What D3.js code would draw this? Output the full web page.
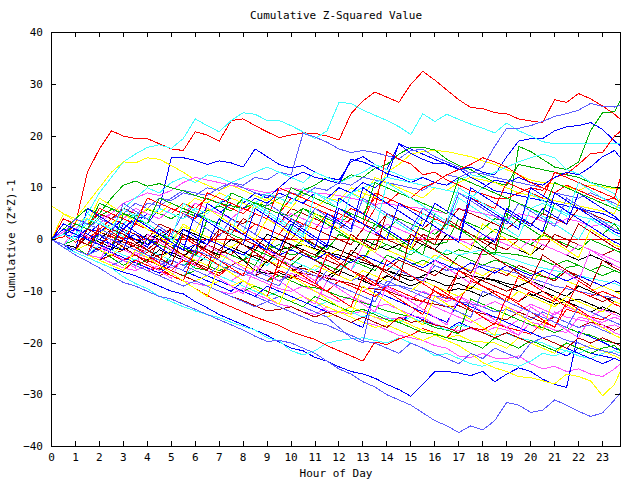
<!DOCTYPE html>
<html><head><meta charset="utf-8">
<script src="https://cdn.jsdelivr.net/npm/d3@7"></script>
<style>body{margin:0;background:#fff}</style>
</head><body>
<svg id="c" width="640" height="480"></svg>
<script>
const hours = [0,0.5,1,1.5,2,2.5,3,3.5,4,4.5,5,5.5,6,6.5,7,7.5,8,8.5,9,9.5,10,10.5,11,11.5,12,12.5,13,13.5,14,14.5,15,15.5,16,16.5,17,17.5,18,18.5,19,19.5,20,20.5,21,21.5,22,22.5,23,23.5,23.75];
const xTickValues = [0,1,2,3,4,5,6,7,8,9,10,11,12,13,14,15,16,17,18,19,20,21,22,23];
const yTickValues = [-40,-30,-20,-10,0,10,20,30,40];

const trial01 = [0,0.5,3,13,17.5,21,20,19.5,19.5,18.5,17.5,17.2,20.8,20.2,19,23,23.3,22,20.8,19.7,20.2,20.6,20.5,20,19.2,24.3,26.8,28.5,27.5,26.5,30,32.5,30.8,28.9,27,25.5,25.3,24.5,24.3,23.3,22.9,22.6,27,26.5,28.2,27.2,25.8,24.2,23.2];
const trial02 = [0,-1,-1.5,-3,-2,-3.5,-5,-4,-5,-6,-3,-4,-5.5,-6,-2,-3,-4,-5,-1,-2,-3,-2.5,-3.5,-1,-2,-3,-4,0,-1,-2,1,0,-1,-0.5,4,3,2,4,3.6,18,17,15.5,14,13.5,15,21,24.5,24.7,27];
const trial03 = [0,1,0.5,2,1.5,3,2,4.5,4,6,15.8,15.8,15.3,14.5,15.2,14.8,14,17.5,16,14.5,13.8,14.3,13,12,11.5,15,16,14.5,13.5,18.5,17.5,16.5,15.5,14.5,13.5,14,13,12.5,16,19,19.5,19.5,21,21.8,22,22.6,21.3,19,18.1];
const trial04 = [0,-1,-2,-3,-3.5,-4.5,-5.5,-6,-5,-6,-7,-8,-8.5,-9,-10,-10.5,-9.5,-10.5,-11.5,-12.5,-13,-14,-14.5,-13,-14,-15,-16,-16.5,-17.5,-18.5,-19,-19.5,-20.5,-21,-22.5,-22.8,-22,-22.9,-23,-22.5,-24,-25,-24.5,-25.5,-25,-26,-26.5,-25,-24];
const trial05 = [0,1,2,5,9,12,15,16.5,17.8,18.3,17.6,19.5,23.3,22,20.8,23,24.5,24.2,23,23,22,20.8,19.5,21,26.5,26.3,25,24,23,21.8,20.3,24.3,22.8,24.2,23.2,22.3,21.5,20.6,22.5,21,20,18.9,18.5,18.5,18.5,18.5,18.5,18.5,18.5];
const trial06 = [0,1,0,-1,1.5,0.5,-0.5,-1.5,-2.5,-1,-2,-3,-2,-3,-4,-5,-4,-3,-4,-5,-6,-5.5,-6.5,-7.5,-5,-6,-7,-8,-7,-8,-9,-8,-9,-10,-6,-7,-8,-9,-10,-9,-10,-11,-12,-9,-10,-11,-12,-11,-11.5];
const trial07 = [0,2,4,7,10,13,15,14.8,15.8,15.5,14.3,13,11.5,10.5,9.5,10.5,9.5,8.5,7.5,9,8,7,6,8,7.5,10,9,8,13,14.5,16.5,17,17.2,17,16.5,16,15.2,14.5,13.5,12.5,11.5,11,10.8,10.2,9.5,10.5,10.2,9.8,10];
const trial08 = [0,-1,-1.5,0.5,-0.5,-1.5,-2,-1,-2,-3,-2.5,-3.5,-1,-2,-3,-1.5,-2.5,-3.5,-4.5,-2,-1.5,-1,-1.8,-2.5,-3,-3.8,-4.5,-5.2,-6,-6.7,-7.2,-7.4,-8,-9,-8.5,-9.5,-7.5,-8,-9,-10,-11,-10,-11,-12,-11.5,-12.5,-13.5,-14,-14.5];
const trial09 = [0,-1,1,3,2,4,5,4.5,7,6.5,8,9.5,9,8.5,10,11,10.5,12,11.5,13,12.5,20.5,19.8,18.8,17.5,16.8,17.2,16.8,16.2,15.6,17.2,17.4,16,15,14,12.8,14,18,21.5,21.5,22,22.8,23.8,24.3,25,26.3,25.7,25.6,25.9];
const trial10 = [0,1,-0.5,0.5,-1,0.5,0.3,0,0,0,0,0,0,0,0,0,0,0,0,0,0,0,0,0,0,0,0,0,0,0,0,0,0,0,0,0,0,0,0,0,0,0,0,0,0,0,0,0,0];
const trial11 = [0,-1,0,2,4.5,5.8,5,4.5,5.8,5,4,5.5,4.5,5.5,6.5,5.5,8,7,6.5,8,7,9.5,10.5,12,11,12.5,12,13.8,14.5,16.5,17.8,17.8,17.3,15.5,14.3,13.5,12.2,11,10.5,14.5,14,13.5,13,12.5,12,11,10.5,10,9.9];
const trial12 = [0,-1,-2.5,-3.5,-4.5,-5.5,-6.3,-7,-8,-9,-10,-10.5,-12,-13.2,-14.5,-15.5,-16.5,-17.5,-18.5,-19.8,-21,-21.5,-22.8,-23.5,-24.6,-25.5,-26,-26.8,-28,-29,-30.3,-28,-25.5,-25.5,-25.8,-26.3,-25.5,-27.5,-26,-24.8,-25.5,-27,-28,-28.6,-17.8,-18.8,-19.8,-21,-21.5];
const trial13 = [0,-1,-2,-1,-2,-3,-4,-2.5,-3.5,-4.5,-5.5,-4,-5,-6,-7,-8,-6.5,-7.5,-8.5,-9.5,-10,-9,-10,-11,-12,-11,-12,-13,-12.5,-13.5,-14.5,-12,-13,-14,-15,-16,-15,-16,-17,-15.5,-16.5,-17.5,-14,-15,-15.5,-16,-17,-16.5,-17];
const trial14 = [0,-1.5,-2.5,-3.5,-4.5,-5.5,-7.2,-8.5,-9.5,-11,-12,-13,-13.8,-14.5,-15.1,-16,-16.8,-17.5,-19,-19.6,-21.5,-22.3,-21.5,-20,-19.5,-19.2,-19,-19.5,-20,-19,-20,-21,-22.5,-22,-23,-24,-24.5,-23.5,-24,-24.5,-23.5,-22,-22.5,-21.5,-22,-21,-21.5,-22,-22.5];
const trial15 = [0,-1,-2,-1,-2,-3,-2,-3,-4,-3,-4,-5,-4.5,-5.5,-6.5,-5,-6,-7,-6,-7,-7.5,-6.5,-7,-7.5,-8,-8.5,-9.3,-9.6,-9.9,-10.8,-11.5,-12,-12.5,-13,-12.8,-13.8,-14.3,-15,-15.5,-14,-15,-16,-15,-16,-17,-16,-16.5,-17.5,-17];
const trial16 = [6.5,5,3.5,4,3,2,4,3,2,1,0,2.5,1.5,0.5,-0.5,-1.5,0,-1,-2,1,0,-1,-2,-3,-2,-3,-4,-1,-2,-3,-4,-5,-3,-4,-5,-6,-7,-5.5,-6.5,-7.5,-8.5,-6,-7,-8,-9,-10,-9,-10,-10.5];
const trial17 = [0,1,0,-1,1,0,-1,-2,0,-1,-2,1,0,-1,2,1,0,-1,-2,-1,-2,0,-1,-2,1,0,-1,-2,-1,-2,-3,-1,-2,-3,-2,-2.5,-3,-2.5,-2.7,-3,-3.5,-4,-5,-4,-5,-6,-5,-6,-6.5];
const trial18 = [0,-1.5,-3,-4.2,-5.5,-7,-8.3,-9,-10,-11,-11.5,-12.5,-13.5,-14.5,-15.5,-16.5,-17.5,-18.7,-19.7,-19.5,-20,-21,-22,-23.5,-25,-26,-27.5,-28.5,-30,-31,-32,-33.5,-35,-36,-37.3,-36,-36.8,-35,-31.5,-32,-33.4,-33,-31,-32,-33.2,-34.2,-33.5,-31,-29.6];
const trial19 = [0,-1,-2,-3,-2,-3,-4,-5,-6,-5.5,-7,-8,-9.5,-10.8,-12,-13,-14,-15,-15.8,-16.6,-17.8,-18.6,-19.3,-20.5,-21.5,-22.5,-23.5,-19.8,-20.3,-19.2,-18.5,-17.2,-18,-19,-16.5,-17,-17.5,-16.2,-17,-17.6,-18.3,-16,-16.8,-13.5,-14.2,-15,-15.5,-14,-14.5];
const trial20 = [0,-1,-2,-1,0,-1,-2,-3,-2,-3,-4,-5,-4,-5,-6,-5,-6,-7,-8,-7,-8,-9,-9.3,-10,-10.9,-11.5,-12.2,-13,-13.8,-14.4,-15,-16,-17,-17.5,-18.2,-11.5,-12.5,-13.5,-14.5,-15.5,-16.5,-17,-18,-17,-18,-18.5,-19.5,-20,-20.5];
const trial21 = [0,-1,-2,-3,-1.5,-2.5,-3.5,-4.5,-5.5,-6.5,-5,-6,-7,-8,-9,-10,-8,-9,-10,-11,-12,-13,-11,-12,-13,-14,-15,-14,-15,-16,-14.5,-15.5,-16.5,-17.5,-16,-17,-18,-19,-20,-21,-19.5,-20.5,-21.5,-22.5,-21,-22,-22.5,-23,-23.5];
const trial22 = [0,1.5,3,2,4,5,7,8,9,8.5,9.5,11,12,11.5,11,10.5,10,9.5,9,9.5,10,9.5,9,8.8,8.5,8,7.5,6.8,7,6.5,6.2,6,5.5,5,6,5.5,5,4.5,4,5,4.5,3.5,3,4,3.5,2.5,3,2,1.5];
const trial23 = [0,-1,1,3,2,4,6,8,10,9,11,12,11,12.5,12,11,12,13,14,13,12,11,13,12,11,12,13,14.5,13.5,12.5,11.5,12,11,10.5,11.5,12.5,12,13,14,15,15.8,16.5,15.8,13.5,12.7,11,10,8.8,6.9];
const trial24 = [0,-1,-2,1,0,-1,2,1,0,3,2,1,0,-1,2,1,4,3,2,1,0,3,2,1,0,-1,2,1,0,-1,-2,1,0,3,2,1,0,-1,-2,0,-1,-2,1,0,-1,-2,-3,-2,-2.5];
const trial25 = [0,-1,-2,-3,-4,-3,-4,-5,-6,-7,-6,-7,-8,-9,-8,-9,-10,-11,-12,-11,-12,-13,-14,-15,-14,-15,-16,-17,-16.5,-17.5,-18.5,-19.5,-18.5,-19.5,-20.5,-22,-23.8,-24.8,-25.5,-26.5,-26.7,-27.3,-27.9,-26,-26.5,-27.3,-30.2,-28,-25.4];
const trial26 = [0,1,0,-1,-2,-1,-2,-3,-4,-2,-3,-4,-5,-3,-4,-5,-6,-7,-4,-5,-6,-5,-6,-7,-6,-7,-8,-5,-6,-7,-8,-7,-6,-7,-7.5,-7,-7.4,-7.8,-8.5,-9,-8,-9,-10,-11,-9,-10,-11,-12,-12.5];
const trial27 = [0,-1,-2,-1,-2,-3,-4,-5,-4,-5,-6,-7,-8,-7,-8,-9,-10,-11,-12,-11,-12,-13,-14,-15,-17,-19,-20,-9.5,-9,-8.9,-9.5,-10.3,-10.9,-11.3,-12,-12.4,-13,-14,-13.5,-14.5,-15.5,-14,-15,-16,-17,-16.5,-17.5,-18.5,-19];
const trial28 = [0,1,0,-1,2,1,0,3,2,1,2,1,0,-1,1,2,1,3,2,1,4,3,2,5,4,3,2,6,17,15.5,14.6,12.5,13,11.5,10.5,9.4,8.8,8,7.9,9,10,9.5,12,12.7,14.5,16.6,16.8,20,20.9];
const trial29 = [0,-1,1,0,2,1,0,-1,-2,0,-1,-2,-3,-1,-2,-3,-4,-2,-3,-4,-5,-3,-4,-5,-6,-4,-5,-6,-3,-4,-5,-4,-5,-6,-3,-4,-5,-4,-4.5,-5.6,-6.6,-7.2,-7.6,-5.4,-5,-6,-7,-6,-6.5];
const trial30 = [0,1,0,2,1,3,2,4,3,6,5,4,6,5,7,8,7,9,8,10,12,13,12,11.5,10.8,15.5,15,14,12.7,12,11,12,11,10.5,12,11,10,11.5,11,12,11,10.5,12,13,12.5,14,16,17.2,15.8];
const trial31 = [0,-1,-2,-3,-2,-3,-4,-5,-6,-5,-6,-7,-8,-7,-8,-9,-10,-9,-10,-11,-12,-11,-12,-13.8,-14,-14.4,-13.8,-15.1,-15.3,-15.3,-14.7,-15.1,-16.3,-17.1,-17.6,-17.2,-18,-17,-17.5,-18.5,-16,-16.5,-17.5,-18,-15,-15.5,-16,-15,-15.5];
const trial32 = [0,-1,-2,-1,-2,-3,-4,-3,-4,-5,-6,-7,-5,-6,-7,-8,-9,-10,-11,-10,-11,-12,-13,-12,-13,-14,-15,-14,-15,-16,-15,-16,-16.5,-17.5,-16.5,-17,-18,-18.5,-18.2,-19,-19.5,-20,-21,-21.5,-22.5,-23,-22,-21.5,-22];
const trial33 = [0,2,1,3,5,4,6,5,4,6,5,4,7,6,5,4,3,5,4,3,6,5,4,3,2,4,3,2,5,4,3,2,4,3,6,5,4,3,2,4,3,5,4,3,6,5,4,3,2.5];
const trial34 = [0,-1,-2,-3,-2,-3,-4,-5,-4,-5,-6,-7,-8,-7,-8,-9,-8,-9,-10,-11,-12,-11,-12,-13,-14,-13,-14,-15,-16,-15.5,-16.5,-17.6,-18,-19,-18.5,-19.6,-19.8,-20,-21,-19,-20,-21,-22,-20,-21,-20.5,-21.5,-22.5,-23];
const trial35 = [0,1,2,1,0,2,1,0,-1,1,0,2,1,0,-1,-2,-4,-6,-6.6,-6.4,-7.4,-6,-7,-8,-6,-7,-8,-9,-7,-8,-9,-8,-9,-10,-9.5,-10,-11,-10,-11,-12,-10.5,-11.5,-12.5,-12,-13,-14,-13,-14,-14.5];
const trial36 = [0,1,3,2,4,3,5,7,6,8,7.5,9,8.5,10,9.5,11,10,9,8.5,8,9,8.5,10,9.5,11,10.5,12,11.5,11,10.5,10,9.5,11,12.5,12,13,12.7,12,11.5,11,10.5,10,9,8.5,8,9,8,7,6.5];
const trial37 = [0,-1,1,0,2,4,3,5,4,6,5,7,6,8,7,6,5,7,6,5,8,7,6,5,4,6,5,8,7,9,8,10,11,12.5,13.5,14.5,15.8,15,14,12.5,11,10,9,10.5,9.5,8.5,7.5,8,7];
const trial38 = [0,-1,-2,-1,-2,-3,-4,-5,-4,-5,-6,-7,-6,-7,-8,-9,-10,-9,-10,-11,-12,-13,-11,-12,-13,-14,-13.5,-14.5,-15.5,-16,-17,-18,-18.3,-19,-19.5,-20,-21,-19,-20,-21,-19.5,-20.5,-21.5,-20,-21,-22,-21,-20.5,-21.5];
const trial39 = [0,-1,-2,-3,-4,-2,-3,-4,-5,-6,-4,-5,-6,-7,-8,-9,-10,-11,-9,-10,-11,-12,-13,-14,-15,-16,-17,-10,-11,-12,-13,-14,-15,-16,-12,-13,-14,-15,-16,-17,-18,-19,-20,-21,-22,-23,-24,-23,-23.5];
const trial40 = [0,1,0,-1,-2,-1,-2,-3,-2,-3,-4,-5,-3,-4,-5,-6,-7,-6,-7,-8,-6.5,-7.5,-8.5,-7,-8,-9,-10,-8.5,-9.5,-10.5,-11.5,-10,-11,-12,-11,-12,-13,-12,-13,-14,-12.5,-13.5,-14.5,-13,-14,-15,-13.5,-14.5,-15];
const trial41 = [0,-1,-2,-3,-1,-2,-3,-4,-2,-3,-4,-5,-3,-4,-5,-2,-3,-4,-5,-3,-4,-5,-6,-4,-5,-6,-3,-4,-5,-6,-2,-3,-4,-2,-3,-2.5,-2,-2.8,-3.5,-4.2,-5,-5.5,-6,-6.5,-7,-7.5,-8,-8.5,-9];
const trial42 = [0,-1,-2,-3,-4,-3,-4,-5,-6,-7,-6,-7,-8,-9,-10,-11,-11.8,-12.8,-13.8,-13.5,-13,-14,-15,-14,-15,-16,-15,-16,-17,-15,-16,-15.7,-16.5,-17,-18,-17,-18,-19,-18,-19,-20,-19,-20,-21,-19,-20,-19,-20,-20.5];
const trial43 = [0,1,3,2,1,3,5,4,6,5,7,6,8,7,9,8,7,6,8,7,6,9,8,7,10,9,8,12,11,10,9,8,10,9.5,11,12,11.5,11,10,9,8.5,8,7.5,7,6.5,6,5.5,5,8];
const trial44 = [0,-1,1,0,-1,-2,0,-1,1,0,2,1,0,-1,-2,0,-1,-2,1,0,-1,-2,-3,-1,-2,-3,0,-1,-2,-1,0,-1,-2,1,0,-1,-2,0,-1,-2,-3,-1,-2,-3,-4,-3,-4,-5,-5.5];
const trial45 = [0,-1,-2,-3,-2,-3,-4,-3,-4,-5,-4,-5,-6,-7,-5,-6,-7,-6,-7,-8,-7,-8,-9,-6,-7,-8,-7,-8,-9,-6,-7,-8,-5,-6,-5.5,-6,-5,-5.5,-6,-6.6,-7.5,-8.2,-9,-9.5,-10,-10.5,-11,-11.2,-11.5];
const trial46 = [0,-1,-2,-1,-2,-3,-4,-3,-4,-5,-6,-4,-5,-6,-7,-5,-6,-7,-8,-6,-7,-8,-9,-10,-8,-9,-10,-11,-9,-10,-11,-12,-10,-11,-12,-8,-9,-10,-11,-12,-10,-11,-12,-9,-10,-11,-10,-11,-11.5];
const trial47 = [0,2,4,6,5,8,10.5,11.3,10.3,10.8,10,9.4,8.5,7.8,7,6.5,6,7,6,5,4.5,6,5,4,3,5,4,3,2,4,3,2,1,3,2,1,0,2,1,0,-1,1,0,-1,-2,0,-1,-2,-2.5];
const trial48 = [0,1,2,1,3,2,4,3,5,4,6,5,4,6,5,7,6,8,7,9,8,7,9,8,10,9,11,10,12,18.5,16.6,15.5,14.6,14.6,13.7,12,10.8,9.4,9,8.5,8,7.5,7,6.5,6,5.5,5,4,3.6];
const trial49 = [0,1,2,4,3,5,4,6,5,4,6,5,7,6,5,4,6,5,4,3,5,4,3,2,4,3,2,1,3,2,1,0,2,1,0,-1,1,0,-1,-2,0,-1,-2,-3,-1,-2,-3,-4,-4.5];
const trial50 = [0,-1,1,3,2,1,3,5,4,6,5,4,6,5,7,9,8,7,9,8,7,10,9,8,7,9,10,11,12,11.5,11,10.5,10,9.5,9,8,10,9,8,7,6,7,6,5,4.5,4,3.5,3,2.5];
const trial51 = [0,2,1,0,-1,1,0,-1,-2,0,-1,-2,-3,-1,-2,-3,0,-1,-2,-3,-4,-2,-3,-4,-5,-3,-4,-5,-6,-4,-5,-6,-7,-5,-6,-7,-8,-6,-7,-5,-6,-7,-8,-6,-7,-8,-9,-8,-8.5];
const trial52 = [0,-1,-2,-1,-2,-3,-1,-2,-3,-4,-2,-3,-4,-5,-3,-4,-5,-6,-4,-5,-6,-7,-5,-6,-7,-8,-6,-7,-8,-9,-10,-8,-9,-10,-11,-9,-10,-11,-12,-10,-11,-12,-13,-11,-12,-13,-14,-12,-12.5];
const trial53 = [0,1,2,0,1,-1,0,1,-1,0,-1,-2,-1,0,-1,-2,-3,-1,-2,-3,-2,-3,-4,-2.5,-3.5,-4.5,-3,-4,-5,-3.5,-4.5,-5.5,-4,-5,-6,-4.5,-5.5,-6.5,-5,-6,-7,-6,-7,-8,-7,-8,-9,-8,-8.5];
const trial54 = [0,-1,-2,-3,-4,-5,-4,-5,-6,-7,-8,-9,-8,-9,-10,-11,-12,-13,-12,-13,-14,-15,-16,-16.5,-17.6,-18.5,-19.6,-20,-21,-22,-20,-21,-22,-23,-24,-22,-23,-21,-22,-23,-20,-19,-18.5,-19.5,-20,-21,-21.5,-22,-22.5];
const trial55 = [0,4,3,2,6,5,4,3,8,7,6,5,4,9,8,7,6,5,4,10,9,8,7,6,5,4,3,9,8,7,6,5,4,3,2,8,7,6,11,10,9,8,13,12,11,10,9,8,12];
const trial56 = [0,3,2,0.5,-1,-2,5,4,2.5,1,0,-1.5,-3,4,2.5,1,8,6.5,5,3.5,2,6,4.5,3,1.5,0,-1,3,1.5,0,-1.5,-3,5,3.5,2,0.5,-1.5,-3,5,3.5,2,0.5,7,5.5,4,2.5,1,3,1.5];
const trial57 = [0,-1,-2,6,4.5,3,1.5,0,-1.5,2,0.5,-1,-2.5,7,5.5,4,2.5,1,-0.5,-2,3,1.5,0,-1.5,8,6.5,5,3.5,2,0.5,-1,4,2.5,1,-0.5,10,8.5,7,5.5,4,2.5,6,4.5,3,9,7.5,6,4.5,3.5];
const trial58 = [0,-1,2,0.5,-1,-2.5,-4,-5.5,1,-0.5,-2,-3.5,-5,-1,-2.5,-4,-5.5,-7,-2,-3.5,-5,-6.5,-8,-3,-4.5,-6,-1,-2.5,-4,-5.5,-7,-8.5,-4,-5.5,-7,-8.5,-2,-3.5,-5,-6.5,-8,-9.5,-5,-6.5,-8,-2,-3.5,-5,-5.5];
const trial59 = [0,2,1,5,3.5,2,0.5,4,2.5,1,-0.5,3,1.5,6,4.5,3,1.5,7,5.5,4,2.5,1,5,3.5,2,9,7.5,6,4.5,3,1.5,5,3.5,2,8,6.5,5,3.5,2,0.5,6,4.5,3,1.5,0,4,2.5,1,0.5];
const trial60 = [0,1,0,-1,-2,2,1,-0.5,-2,-3.5,-5,1,-0.5,-2,-3.5,3,1.5,0,-1.5,-3,2,0.5,-1,-2.5,-4,1,-0.5,-2,5,3.5,2,0.5,-1,4,2.5,1,-0.5,-2,6,4.5,3,1.5,0,-1.5,3,1.5,0,-1.5,-2];
const trial61 = [0,5,4,3,8,6.5,5,3.5,2,0.5,-1,3,1.5,6,4.5,3,1.5,0,4,2.5,1,-0.5,5,3.5,2,0.5,-1,-2.5,1,-0.5,-2,4,2.5,1,-0.5,-2,3,1.5,0,-1.5,-3,1,-0.5,-2,-3.5,2,0.5,-1,-1.5];
const trial62 = [0,-1,-2,-3,-4,-5,-6,-4,-5,-6,-7,-8,-2,-3.5,-5,-6.5,-8,-9.5,-11,-4,-5.5,-7,-8.5,-10,-11.5,-13,-7,-8.5,-10,-11.5,-13,-14.5,-9,-10.5,-12,-13.5,-15,-16.5,-11,-12.5,-14,-15.5,-17,-12,-13.5,-15,-16.5,-18,-18.5];
const trial63 = [0,1,4,3,2,1,7,5.5,4,2.5,1,5,3.5,2,0.5,4,2.5,1,7,5.5,4,2.5,6,4.5,3,1.5,8,6.5,5,3.5,2,6,4.5,3,9,7.5,6,4.5,3,7,5.5,4,2.5,8,6.5,5,3.5,2,1.5];
const trial64 = [0,-1,-2,-3,3,1.5,0,-1.5,-3,-4.5,2,0.5,-1,-2.5,-4,-5.5,-7,-1,-2.5,-4,-5.5,-7,-8.5,-3,-4.5,-6,-7.5,-9,-4,-5.5,-7,-8.5,-10,-11.5,-6,-7.5,-9,-10.5,-12,-7,-8.5,-10,-11.5,-13,-8,-9.5,-11,-12.5,-13];
const trial65 = [0,1,3,2,7,6,5,4,3,8,7,6,5,4,3,9,8,7,6,5,10,9,8,7,6,5,4,11,10,9,8,7,6,5,12,11,10,9,8,7,6,5,11,10,9,8,7,6,5.5];
const trial66 = [0,3,2,1,0,-1,-2,4,2.5,1,-0.5,-2,5,3.5,2,0.5,-1,6,4.5,3,1.5,0,-1.5,5,3.5,2,10,8.5,7,5.5,4,2.5,7,5.5,4,2.5,1,-0.5,6,4.5,3,1.5,9,7.5,6,4.5,3,1.5,1];
const trial67 = [0,-1,-2,-3,-4,0,-1.5,-3,-4.5,-6,-7.5,-3,-4.5,-6,-7.5,-9,-10.5,-5,-6.5,-8,-9.5,-11,-12.5,-8,-9.5,-11,-12.5,-14,-9,-10.5,-12,-13.5,-15,-16.5,-11,-12.5,-14,-15.5,-17,-18.5,-13,-14.5,-16,-17.5,-19,-15,-16.5,-18,-18.5];
const trial68 = [0,1,0,4,3,2,6,4.5,3,1.5,0,7,5.5,4,2.5,1,8,6.5,5,3.5,2,0.5,9,7.5,6,4.5,3,1.5,11,9.5,8,6.5,5,3.5,10,8.5,7,5.5,4,2.5,9,7.5,6,4.5,11,9.5,8,6.5,6];
const trial69 = [0,-1,-2,2,1,0,-1.5,-3,-4.5,0,-1.5,-3,-4.5,-6,2,0.5,-1,-2.5,-4,-5.5,-1,-2.5,-4,-5.5,-7,-2,-3.5,-5,-6.5,-8,1,-0.5,-2,-3.5,-5,-6.5,-2,-3.5,-5,-6.5,-8,-3,-4.5,-6,-7.5,-9,-4,-5.5,-6];
const trial70 = [0,-1,-2,-3,-4,-5,-6,-2,-3.5,-5,-6.5,-8,-9.5,-11,-5,-6.5,-8,-9.5,-11,-12.5,-7,-8.5,-10,-11.5,-13,-14.5,-9,-10.5,-12,-13.5,-15,-16.5,-11,-12.5,-14,-15.5,-17,-18.5,-13,-14.5,-16,-17.5,-11,-12.5,-14,-15.5,-17,-18.5,-19];
const trial71 = [0,2,1,0,-1,-2,3,1.5,0,-1.5,-3,2,0.5,-1,4,2.5,1,-0.5,-2,5,3.5,2,0.5,-1,6,4.5,3,1.5,0,7,5.5,4,2.5,1,-0.5,8,6.5,5,3.5,2,10,8.5,7,5.5,4,2.5,1,-0.5,-1];
const trial72 = [0,-1,-2,-3,1,0,-1,-2,-3,-4,-5,-6,-2,-3,-4,-5,-6,-7,-8,-9,-5,-6,-7,-8,-9,-10,-11,-12,-8,-9,-10,-11,-12,-13,-14,-15,-10,-11,-12,-13,-14,-15,-16,-17,-13,-14,-15,-16,-16.5];

const runs = [trial01,trial02,trial03,trial04,trial05,trial06,trial07,trial08,trial09,
  trial10,trial11,trial12,trial13,trial14,trial15,trial16,trial17,trial18,
  trial19,trial20,trial21,trial22,trial23,trial24,trial25,trial26,trial27,
  trial28,trial29,trial30,trial31,trial32,trial33,trial34,trial35,trial36,
  trial37,trial38,trial39,trial40,trial41,trial42,trial43,trial44,trial45,
  trial46,trial47,trial48,trial49,trial50,trial51,trial52,trial53,trial54,
  trial55,trial56,trial57,trial58,trial59,trial60,trial61,trial62,trial63,
  trial64,trial65,trial66,trial67,trial68,trial69,trial70,trial71,trial72];

// colour of each run, in run order
const colourOf = {r:"#ff0000", g:"#00b000", b:"#0000ff", m:"#ff50ff", c:"#40ffff", d:"#b00000", y:"#ffff00", k:"#000000", p:"#5c5cff"};
const runColours = ["r","g","b","m","c","d","y","k","p",
  "r","g","b","m","c","d","y","g","p",
  "r","g","b","m","c","d","y","k","p",
  "r","g","b","m","c","d","y","k","p",
  "r","g","b","m","c","d","y","k","p",
  "r","g","b","m","c","d","y","b","p",
  "r","g","b","m","c","d","y","r","p",
  "r","g","b","m","c","d","y","b","p"];
const fontFamily = "'DejaVu Sans Mono', 'Liberation Mono', monospace";

const svg = d3.select("#c");
svg.append("rect").attr("width",640).attr("height",480).attr("fill","#fff");

const x = d3.scaleLinear().domain([0, 23.75]).range([51, 620]);
const y = d3.scaleLinear().domain([-40, 40]).range([446, 32]);

const line = d3.line()
  .x((d, i) => x(hours[i]) + 0.5)
  .y(d => y(d) + 0.5);

svg.append("g").selectAll("path").data(runs).join("path")
  .attr("d", line)
  .attr("fill", "none")
  .attr("stroke", (d, i) => colourOf[runColours[i]])
  .attr("stroke-width", 1)
  .attr("shape-rendering", "crispEdges");

function styleAxis(g) {
  g.attr("font-family", fontFamily).attr("font-size", 11);
  g.selectAll(".domain, line").attr("stroke", "#000").attr("shape-rendering", "crispEdges");
  g.selectAll("text").attr("fill", "#000");
}

const gB = svg.append("g").attr("transform", "translate(0,446)")
  .call(d3.axisBottom(x).tickValues(xTickValues).tickFormat(d3.format("d")).tickSizeInner(-5).tickSizeOuter(0));
gB.selectAll("text").attr("y", 15).attr("dy", "0");
styleAxis(gB);

const gT = svg.append("g").attr("transform", "translate(0,32)")
  .call(d3.axisTop(x).tickValues(xTickValues).tickFormat("").tickSizeInner(-5).tickSizeOuter(0));
styleAxis(gT);

const gL = svg.append("g").attr("transform", "translate(51,0)")
  .call(d3.axisLeft(y).tickValues(yTickValues).tickFormat(d3.format("d")).tickSizeInner(-5).tickSizeOuter(0).tickPadding(8));
styleAxis(gL);

const gR = svg.append("g").attr("transform", "translate(620,0)")
  .call(d3.axisRight(y).tickValues(yTickValues).tickFormat("").tickSizeInner(-5).tickSizeOuter(0));
styleAxis(gR);

svg.append("text").attr("x", 336).attr("y", 19).attr("text-anchor", "middle")
  .attr("font-family", fontFamily).attr("font-size", 11).attr("fill", "#000")
  .text("Cumulative Z-Squared Value");
svg.append("text").attr("x", 336).attr("y", 477).attr("text-anchor", "middle")
  .attr("font-family", fontFamily).attr("font-size", 11).attr("fill", "#000")
  .text("Hour of Day");
svg.append("text").attr("transform", "translate(15,239) rotate(-90)").attr("text-anchor", "middle")
  .attr("font-family", fontFamily).attr("font-size", 11).attr("fill", "#000")
  .text("Cumulative (Z*Z)-1");
</script>
</body></html>
